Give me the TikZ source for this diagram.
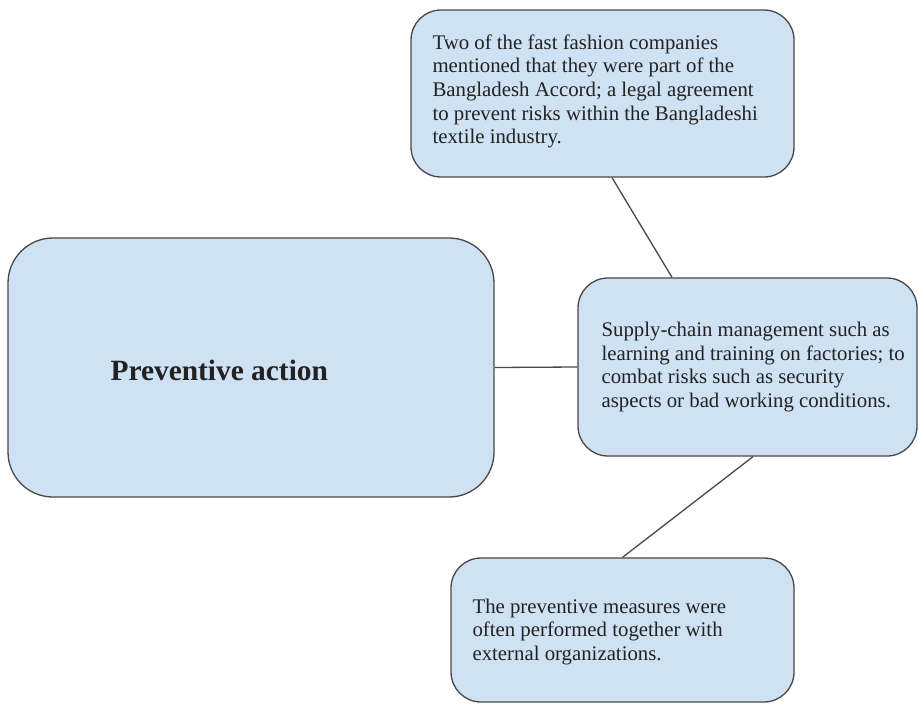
\documentclass[tikz,border=0pt]{standalone}
\usepackage{fontspec}
\setmainfont{Liberation Serif}
\definecolor{boxfill}{HTML}{CFE2F3}
\definecolor{boxline}{HTML}{484848}
\definecolor{ink}{HTML}{222222}
\begin{document}
\begin{tikzpicture}[x=1pt,y=-1pt,
  box/.style={draw=boxline, fill=boxfill, line width=1.3pt, rounded corners=30pt, inner sep=0pt},
  bodytext/.style={align=left, anchor=west, inner sep=0pt, text=ink, font=\fontsize{20.8}{23.7}\selectfont},
  link/.style={draw=boxline, line width=1.3pt},
]
\useasboundingbox (0,0) rectangle (919,704);

% boxes
\node[box, minimum width=383pt, minimum height=167pt] (top) at (602.5,93.5) {};
\node[box, rounded corners=45pt, minimum width=486pt, minimum height=259pt] (main) at (251,367.5) {};
\node[box, minimum width=339pt, minimum height=178pt] (right) at (747.5,367) {};
\node[box, minimum width=343pt, minimum height=144pt] (bottom) at (622.5,630) {};

% connectors
\draw[link] (main.east) -- (right.west);
\draw[link] ([xshift=9.5pt]top.south) -- ([xshift=-75.5pt]right.north);
\draw[link] ([xshift=5.5pt]right.south) -- (bottom.north);

% texts
\node[bodytext, font=\bfseries\fontsize{29.4}{34}\selectfont] (maintext) at ([xshift=103pt,yshift=-2.5pt]main.west) {Preventive action};
\node[bodytext] (toptext) at ([xshift=22pt,yshift=2pt]top.west) {Two of the fast fashion companies\\mentioned that they were part of the\\Bangladesh Accord; a legal agreement\\to prevent risks within the Bangladeshi\\textile industry.};
\node[bodytext] (righttext) at ([xshift=24pt]right.west) {Supply-chain management such as\\learning and training on factories; to\\combat risks such as security\\aspects or bad working conditions.};
\node[bodytext] (bottomtext) at ([xshift=22pt,yshift=-2pt]bottom.west) {The preventive measures were\\often performed together with\\external organizations.};
\end{tikzpicture}
\end{document}
